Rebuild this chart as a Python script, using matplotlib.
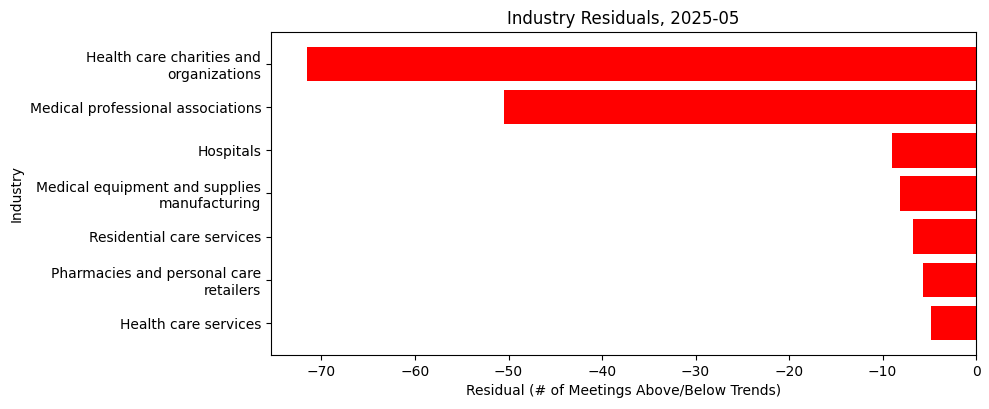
import matplotlib
matplotlib.use("Agg")
import matplotlib.pyplot as plt

# --- Data -------------------------------------------------------------------
industries = [
    "Health care charities and\norganizations",
    "Medical professional associations",
    "Hospitals",
    "Medical equipment and supplies\nmanufacturing",
    "Residential care services",
    "Pharmacies and personal care\nretailers",
    "Health care services",
]
residuals = [-71.5, -50.5, -9.0, -8.1, -6.8, -5.7, -4.8]

fig, ax = plt.subplots(figsize=(9.89, 4.09), dpi=100)
ax.barh(industries, residuals, color="red")
ax.invert_yaxis()
ax.set_xlim(-75.4, 0)
ax.set_xlabel("Residual (# of Meetings Above/Below Trends)")
ax.set_ylabel("Industry")
ax.set_title("Industry Residuals, 2025-05")
fig.subplots_adjust(left=0.274, right=0.987, top=0.922, bottom=0.132)
fig.savefig("out.png", dpi=100)
